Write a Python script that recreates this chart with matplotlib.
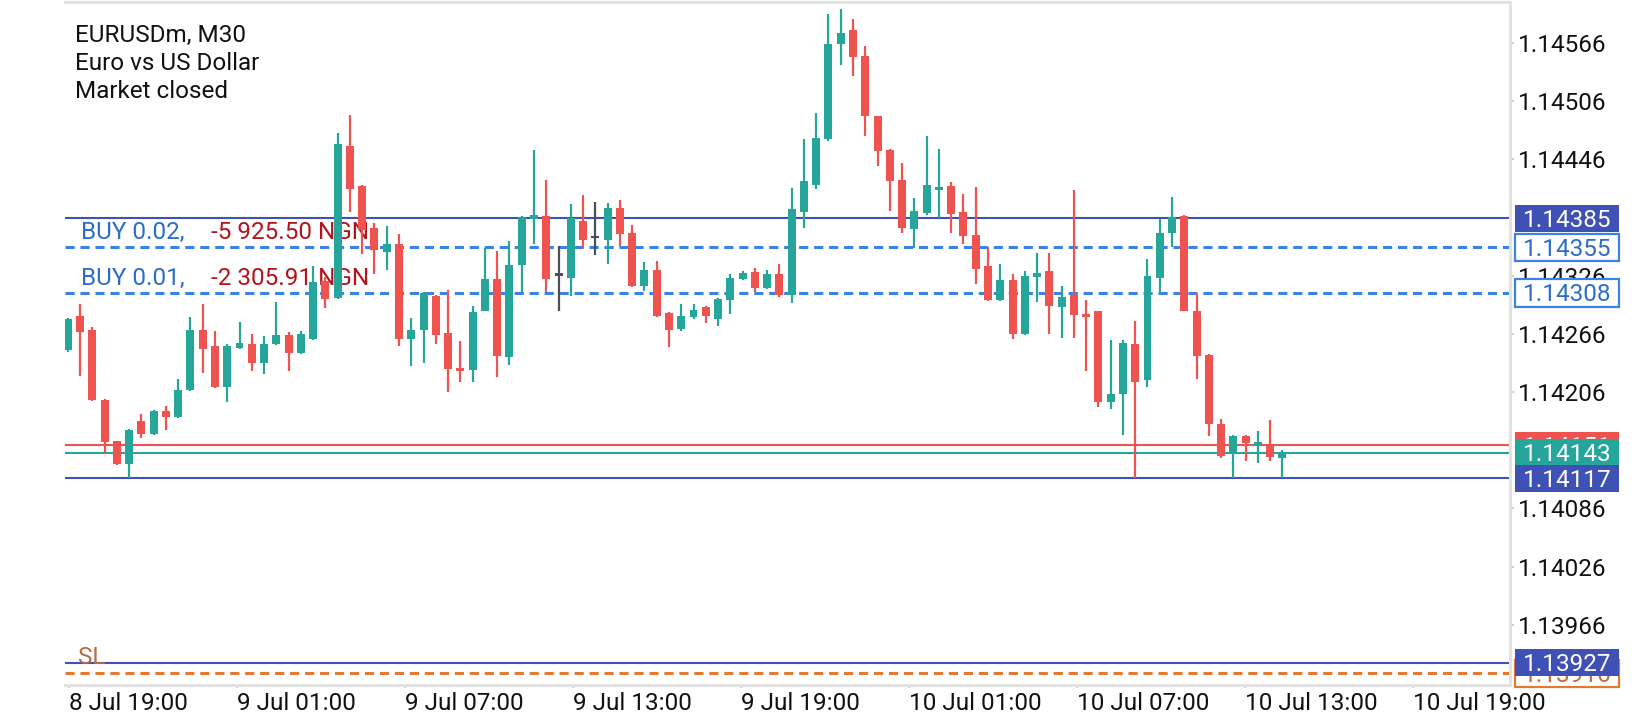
import numpy as np
import matplotlib
matplotlib.use("Agg")
import matplotlib.pyplot as plt
from matplotlib.patches import Rectangle
from matplotlib.transforms import IdentityTransform, blended_transform_factory

plt.rcParams['font.family'] = ['Roboto', 'DejaVu Sans']

# ---------------- data ----------------
header_lines = ["EURUSDm, M30", "Euro vs US Dollar", "Market closed"]

opens = [1.14249, 1.14284, 1.14270, 1.14198, 1.14155, 1.14132, 1.14176, 1.14163, 1.14186, 1.14180,
         1.14208, 1.14270, 1.14253, 1.14211, 1.14251, 1.14256, 1.14236, 1.14255, 1.14265, 1.14246,
         1.14261, 1.14320, 1.14303, 1.14460, 1.14418, 1.14375, 1.14350, 1.14359, 1.14261, 1.14270,
         1.14305, 1.14267, 1.14231, 1.14229, 1.14290, 1.14322, 1.14242, 1.14337, 1.14384, 1.14387,
         1.14327, 1.14324, 1.14382, 1.14366, 1.14363, 1.14396, 1.14370, 1.14315, 1.14332, 1.14287,
         1.14271, 1.14283, 1.14294, 1.14281, 1.14301, 1.14322, 1.14330, 1.14313, 1.14328, 1.14306,
         1.14392, 1.14419, 1.14467, 1.14565, 1.14579, 1.14552, 1.14490, 1.14455, 1.14425, 1.14374,
         1.14391, 1.14414, 1.14418, 1.14392, 1.14368, 1.14336, 1.14301, 1.14321, 1.14266, 1.14325,
         1.14331, 1.14294, 1.14306, 1.14286, 1.14289, 1.14196, 1.14204, 1.14255, 1.14218, 1.14324,
         1.14370, 1.14387, 1.14289, 1.14244, 1.14173, 1.14143, 1.14161, 1.14151, 1.14152, 1.14138]

highs = [1.14282, 1.14297, 1.14273, 1.14199, 1.14156, 1.14168, 1.14183, 1.14187, 1.14192, 1.14219,
         1.14283, 1.14297, 1.14269, 1.14255, 1.14278, 1.14266, 1.14264, 1.14299, 1.14268, 1.14269,
         1.14336, 1.14325, 1.14473, 1.14492, 1.14419, 1.14380, 1.14377, 1.14369, 1.14282, 1.14309,
         1.14306, 1.14311, 1.14259, 1.14295, 1.14354, 1.14351, 1.14362, 1.14387, 1.14455, 1.14425,
         1.14357, 1.14400, 1.14409, 1.14402, 1.14401, 1.14404, 1.14378, 1.14340, 1.14341, 1.14288,
         1.14297, 1.14297, 1.14295, 1.14303, 1.14328, 1.14331, 1.14334, 1.14332, 1.14338, 1.14416,
         1.14467, 1.14494, 1.14596, 1.14601, 1.14590, 1.14563, 1.14491, 1.14456, 1.14442, 1.14406,
         1.14470, 1.14456, 1.14422, 1.14410, 1.14417, 1.14355, 1.14338, 1.14328, 1.14331, 1.14349,
         1.14349, 1.14315, 1.14414, 1.14301, 1.14290, 1.14260, 1.14260, 1.14279, 1.14343, 1.14384,
         1.14407, 1.14388, 1.14307, 1.14245, 1.14178, 1.14162, 1.14162, 1.14166, 1.14177, 1.14146]

lows = [1.14247, 1.14222, 1.14197, 1.14143, 1.14131, 1.14117, 1.14159, 1.14162, 1.14167, 1.14179,
        1.14207, 1.14226, 1.14210, 1.14196, 1.14250, 1.14228, 1.14225, 1.14254, 1.14228, 1.14245,
        1.14260, 1.14293, 1.14302, 1.14392, 1.14348, 1.14328, 1.14332, 1.14253, 1.14233, 1.14236,
        1.14256, 1.14206, 1.14216, 1.14216, 1.14289, 1.14221, 1.14234, 1.14309, 1.14359, 1.14309,
        1.14289, 1.14305, 1.14354, 1.14347, 1.14338, 1.14357, 1.14314, 1.14310, 1.14283, 1.14252,
        1.14269, 1.14281, 1.14277, 1.14274, 1.14286, 1.14321, 1.14309, 1.14312, 1.14304, 1.14298,
        1.14375, 1.14415, 1.14465, 1.14543, 1.14532, 1.14470, 1.14439, 1.14393, 1.14370, 1.14354,
        1.14388, 1.14385, 1.14370, 1.14359, 1.14317, 1.14300, 1.14300, 1.14261, 1.14265, 1.14299,
        1.14266, 1.14262, 1.14262, 1.14228, 1.14191, 1.14188, 1.14162, 1.14117, 1.14211, 1.14307,
        1.14355, 1.14289, 1.14219, 1.14161, 1.14138, 1.14117, 1.14135, 1.14133, 1.14135, 1.14117]

closes = [1.14281, 1.14268, 1.14198, 1.14154, 1.14132, 1.14167, 1.14163, 1.14186, 1.14180, 1.14208,
          1.14270, 1.14250, 1.14211, 1.14253, 1.14256, 1.14236, 1.14256, 1.14265, 1.14246, 1.14266,
          1.14319, 1.14302, 1.14462, 1.14415, 1.14373, 1.14352, 1.14359, 1.14261, 1.14270, 1.14308,
          1.14265, 1.14230, 1.14228, 1.14288, 1.14322, 1.14243, 1.14337, 1.14386, 1.14388, 1.14322,
          1.14327, 1.14385, 1.14363, 1.14366, 1.14396, 1.14369, 1.14315, 1.14332, 1.14284, 1.14270,
          1.14284, 1.14291, 1.14284, 1.14302, 1.14323, 1.14329, 1.14313, 1.14328, 1.14306, 1.14395,
          1.14423, 1.14468, 1.14565, 1.14576, 1.14551, 1.14490, 1.14454, 1.14423, 1.14375, 1.14393,
          1.14419, 1.14417, 1.14389, 1.14367, 1.14333, 1.14301, 1.14321, 1.14266, 1.14326, 1.14329,
          1.14295, 1.14304, 1.14285, 1.14284, 1.14196, 1.14204, 1.14257, 1.14216, 1.14326, 1.14370,
          1.14386, 1.14290, 1.14243, 1.14173, 1.14140, 1.14161, 1.14153, 1.14154, 1.14139, 1.14143]

time_labels = ["8 Jul 19:00", "9 Jul 01:00", "9 Jul 07:00", "9 Jul 13:00", "9 Jul 19:00",
               "10 Jul 01:00", "10 Jul 07:00", "10 Jul 13:00", "10 Jul 19:00"]

# visible price-axis labels (1.14386, 1.14146, 1.13906 sit fully under price tags)
price_ticks = [1.14566, 1.14506, 1.14446, 1.14326, 1.14266, 1.14206,
               1.14086, 1.14026, 1.13966]

upper_level = 1.14385
lower_level = 1.14117
lowest_level = 1.13927
ask_price = 1.14151
bid_price = 1.14143
order_labels = ["BUY 0.02,", "BUY 0.01,"]
order_profits = ["-5 925.50 NGN", "-2 305.91 NGN"]
order_prices = [1.14355, 1.14308]
stop_loss = 1.13916

# ---------------- style ----------------
TEAL = '#26a69a'
RED = '#ef5350'
GREY = '#4e4e58'
NAVY = '#3f51b5'
BLUE = '#3b82e4'
ORANGE = '#e27a2f'
AXIS = '#e2e2e2'

W, H = 1640, 720
fig = plt.figure(figsize=(W / 100, H / 100), dpi=100)
AX_L, AX_R, AX_T, AX_B = 65, 1510, 2, 685
ax = fig.add_axes([AX_L / W, 1 - AX_B / H, (AX_R - AX_L) / W, (AX_B - AX_T) / H])

C0, STEP = 67.73, 12.27          # pixel centre of first bar, bar spacing
ax.set_xlim((AX_L - C0) / STEP, (AX_R - C0) / STEP)
ax.set_ylim(1.13904, 1.14608)

# ---------------- candles ----------------
o = np.array(opens); h = np.array(highs); l = np.array(lows); c = np.array(closes)
idx = np.arange(len(o))
cols = np.where(c > o, TEAL, np.where(c < o, RED, GREY))
ax.vlines(idx, l, h, colors=cols, linewidth=1.6, zorder=5)
body_h = np.maximum(np.abs(c - o), 0.000024)
body_b = (o + c) / 2 - body_h / 2
ax.bar(idx, body_h, bottom=body_b, width=0.65, color=cols, linewidth=0, zorder=6)

# ---------------- horizontal levels ----------------
for lv in (upper_level, lower_level, lowest_level):
    ax.axhline(lv, color=NAVY, lw=1.5, zorder=2)
ax.axhline(ask_price, color=RED, lw=1.5, zorder=2)
ax.axhline(bid_price, color=TEAL, lw=1.5, zorder=2)
for p in order_prices:
    ax.axhline(p, color=BLUE, lw=2.2, linestyle=(0, (3.0, 1.9)), zorder=2)
ax.axhline(stop_loss, color=ORANGE, lw=2.2, linestyle=(0, (3.0, 1.9)), zorder=2)

# order annotations
btr = blended_transform_factory(ax.transAxes, ax.transData)
for lab, prof, p in zip(order_labels, order_profits, order_prices):
    ax.annotate(lab, xy=(0.0111, p), xycoords=btr, xytext=(0, 5.8), textcoords='offset points',
                fontsize=17.5, color='#2d6cc9', va='baseline', ha='left', zorder=3)
    ax.annotate(prof, xy=(0.1008, p), xycoords=btr, xytext=(0, 5.8), textcoords='offset points',
                fontsize=17.5, color='#b3141b', va='baseline', ha='left', zorder=3)
ax.annotate("SL", xy=(0.0093, stop_loss), xycoords=btr, xytext=(0, 6.5), textcoords='offset points',
            fontsize=17.5, color='#b86a40', va='baseline', ha='left', zorder=3)

# ---------------- axes ----------------
for s in ('top', 'right', 'bottom'):
    ax.spines[s].set_color(AXIS)
    ax.spines[s].set_linewidth(2.2)
ax.spines['left'].set_visible(False)

ax.yaxis.tick_right()
ax.set_yticks(price_ticks)
ax.set_yticklabels([f"{v:.5f}" for v in price_ticks])
ax.tick_params(axis='y', length=3, width=1.4, color='#cfcfcf', pad=2.5,
               labelsize=17.5, labelcolor='#111111')

tick_px = [68.6 + 168.0 * k for k in range(len(time_labels))]
ax.set_xticks([(px - C0) / STEP for px in tick_px])
ax.set_xticklabels(time_labels, ha='left')
ax.tick_params(axis='x', length=2.5, width=1.4, color='#cfcfcf', pad=2.4,
               labelsize=17.5, labelcolor='#111111')

# ---------------- header text ----------------
for i, line in enumerate(header_lines):
    fig.text(75 / W, 1 - (41.7 + 28.4 * i) / H, line, fontsize=17.5, color='#111111',
             va='baseline', ha='left')

# ---------------- price tags ----------------
def price_tag(price, fc, ec, tc, z):
    y = ax.transData.transform((0, price))[1]
    rect = Rectangle((1515, y - 13.8), 104, 27.6, transform=IdentityTransform(),
                     facecolor=fc, edgecolor=ec if ec else 'none',
                     linewidth=1.6 if ec else 0, zorder=z)
    fig.add_artist(rect)
    fig.text(1567, y - 8.3, f"{price:.5f}", transform=IdentityTransform(), ha='center',
             va='baseline', fontsize=17.5, color=tc, zorder=z + 0.1)

price_tag(upper_level, NAVY, None, 'white', 10)
for p in order_prices:
    price_tag(p, 'white', BLUE, '#2d6cc9', 11)
price_tag(ask_price, RED, None, 'white', 12)
price_tag(bid_price, TEAL, None, 'white', 13)
price_tag(lower_level, NAVY, None, 'white', 14)
price_tag(stop_loss, 'white', ORANGE, '#c86a35', 15)
price_tag(lowest_level, NAVY, None, 'white', 16)

fig.savefig("out.png", dpi=100)
